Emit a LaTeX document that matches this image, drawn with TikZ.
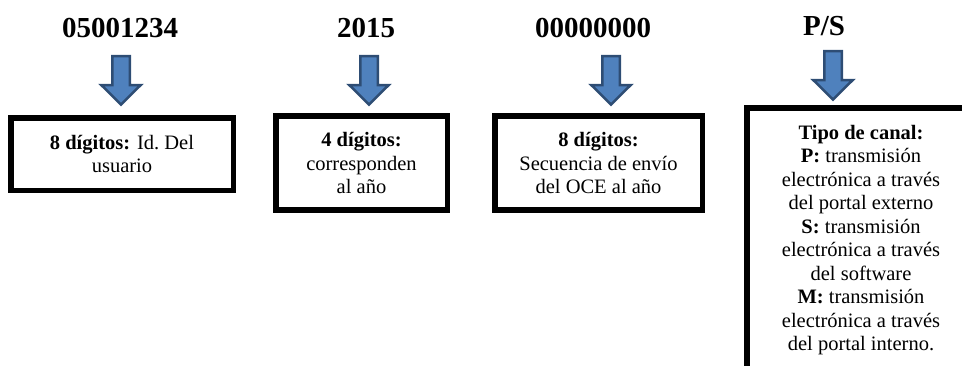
\documentclass[tikz,border=0pt]{standalone}
\usepackage{fontspec}
\setmainfont{Liberation Serif}
\definecolor{arrowfill}{HTML}{4F81BD}
\definecolor{arrowline}{HTML}{2E4D74}

\tikzset{
  codelabel/.style={font=\fontsize{29}{32}\selectfont\bfseries, inner sep=0pt},
  infobox/.style={draw=black, line width=5.5pt, align=center, inner sep=0pt,
    font=\fontsize{20.5}{23.5}\selectfont},
  downarrow/.pic={
    \filldraw[fill=arrowfill, draw=arrowline, line width=2.5pt]
      (-8.75,0) -- (8.75,0) -- (8.75,29) -- (19.75,29) -- (0,48.5)
      -- (-19.75,29) -- (-8.75,29) -- cycle;
  }
}

\begin{document}
\begin{tikzpicture}[x=1pt,y=-1pt]
  \useasboundingbox (0,0) rectangle (962,365);
  % codes
  \node[codelabel] (user code) at (120,28) {05001234};
  \node[codelabel] (year code) at (366,28) {2015};
  \node[codelabel] (seq code)  at (593,28) {00000000};
  \node[codelabel] (chan code) at (824,26) {P/S};
  % arrows
  \pic (ar1) at (121,56) {downarrow};
  \pic (ar2) at (369,56) {downarrow};
  \pic (ar3) at (611,56) {downarrow};
  \pic (ar4) at (833,51) {downarrow};
  % boxes
  \node[infobox, minimum width=222.5pt, minimum height=72.5pt] (user box) at (122,154)
    {\textbf{8 dígitos:} Id.\ Del\\usuario};
  \node[infobox, minimum width=171.5pt, minimum height=94pt] (year box) at (361.5,163)
    {\textbf{4 dígitos:}\\corresponden\\al año};
  \node[infobox, minimum width=207.5pt, minimum height=94pt] (seq box) at (598.5,163)
    {\textbf{8 dígitos:}\\Secuencia de envío\\del OCE al año};
  \node[infobox, minimum width=228.5pt, minimum height=264pt] (chan box) at (861,240)
    {\textbf{Tipo de canal:}\\\textbf{P:} transmisión\\electrónica a través\\del portal externo\\
     \textbf{S:} transmisión\\electrónica a través\\del software\\
     \textbf{M:} transmisión\\electrónica a través\\del portal interno.};
\end{tikzpicture}
\end{document}
